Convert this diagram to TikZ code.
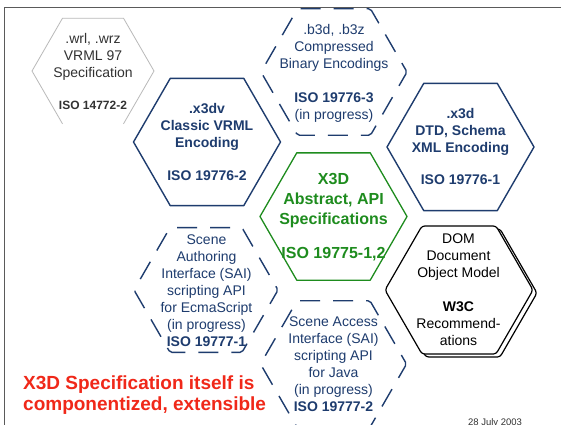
\documentclass[tikz,border=0pt]{standalone}
\usepackage{fontspec}
\setmainfont{Liberation Sans}
\usetikzlibrary{calc}
\definecolor{navy}{RGB}{30,60,110}
\definecolor{xgreen}{RGB}{30,140,30}
\definecolor{xred}{RGB}{240,40,25}
\definecolor{lgray}{RGB}{185,185,185}
\definecolor{dgray}{RGB}{50,50,50}
\definecolor{framegray}{RGB}{90,90,90}
\newcommand\hexloop[1]{++(0:#1) -- ++(120:#1) -- ++(180:#1) -- ++(240:#1) -- ++(300:#1) -- ++(0:#1) -- cycle}
\begin{document}
\begin{tikzpicture}[x=1pt,y=-1pt,
  solidhex/.style={draw=navy, line width=1.4pt, line join=round},
  dashhex/.style={draw=navy, line width=1.4pt, dash pattern=on 20pt off 13pt, dash phase=6pt, rounded corners=2pt},
  greenhex/.style={draw=xgreen, line width=1.3pt, line join=round},
  grayhex/.style={draw=lgray, line width=0.8pt, line join=round},
  domhex/.style={draw=black, line width=1.2pt, fill=white, rounded corners=3pt},
  txt/.style={align=center, inner sep=0pt, font=\fontsize{14}{17}\selectfont},
]
\useasboundingbox (0,0) rectangle (561,424);
\fill[white] (0,0) rectangle (561,424);
% frame
\coordinate (fA) at (4,430);
\coordinate (fB) at (4,7);
\coordinate (fC) at (561,7);
\draw[framegray, line width=0.9pt] (fA) -- (fB) -- (fC);

% centres
\coordinate (cVRML) at (93,71);
\coordinate (cB3D) at (334,72);
\coordinate (cX3DV) at (207,142);
\coordinate (cX3D) at (460.5,147);
\coordinate (cAPI) at (333.5,216.5);
\coordinate (cSAIE) at (206,290);
\coordinate (cDOM) at (459,290);
\coordinate (cDOMs) at (463,293);
\coordinate (cSAIJ) at (333.5,364);

% VRML hexagon (bottom edge not drawn)
\draw[grayhex] (cVRML) ++(-30.5,52.8) -- ++(-30.5,-52.8) -- ++(30.5,-52.8) -- ++(61,0) -- ++(30.5,52.8) -- ++(-30.5,52.8);

\draw[dashhex] (cB3D) \hexloop{73};
\draw[solidhex] (cX3DV) \hexloop{73.5};
\draw[solidhex] (cX3D) \hexloop{73.5};
\draw[greenhex] (cAPI) \hexloop{73.5};
\draw[dashhex] (cSAIE) \hexloop{72};
\draw[dashhex] (cSAIJ) \hexloop{73};
\draw[domhex] (cDOMs) \hexloop{74};
\draw[domhex] (cDOM) \hexloop{74};

% texts
\node[txt, text=dgray] (tVRML) at (93,71) {.wrl, .wrz\\VRML 97\\Specification\\[15pt]{\fontsize{12}{14}\selectfont\bfseries ISO 14772-2}};
\node[txt, text=navy] (tB3D) at (334,73) {.b3d, .b3z\\Compressed\\Binary Encodings\\[17pt]\textbf{ISO 19776-3}\\(in progress)};
\node[txt, text=navy, font=\fontsize{14}{17}\selectfont\bfseries] (tX3DV) at (207,142) {.x3dv\\Classic VRML\\Encoding\\[16pt]ISO 19776-2};
\node[txt, text=navy, font=\fontsize{14}{17}\selectfont\bfseries] (tX3D) at (460.5,146.5) {.x3d\\DTD, Schema\\XML Encoding\\[15pt]ISO 19776-1};
\node[txt, text=xgreen, font=\fontsize{16}{20}\selectfont\bfseries] (tAPI) at (333.5,217.5) {X3D\\Abstract, API\\Specifications\\[14pt]ISO 19775-1,2};
\node[txt, text=navy] (tSAIE) at (206.5,290.5) {Scene\\Authoring\\Interface (SAI)\\scripting API\\for EcmaScript\\(in progress)\\\textbf{ISO 19777-1}};
\node[txt, text=black] (tDOM) at (458.5,290) {DOM\\Document\\Object Model\\[17pt]\textbf{W3C}\\Recommend-\\ations};
\node[txt, text=navy] (tSAIJ) at (333.5,364.5) {Scene Access\\Interface (SAI)\\scripting API\\for Java\\(in progress)\\\textbf{ISO 19777-2}};

\node[anchor=west, align=left, inner sep=0pt, text=xred, font=\fontsize{19}{21}\selectfont\bfseries] (tRed) at (23,395) {X3D Specification itself is\\componentized, extensible};
\node[anchor=base, inner sep=0pt, text=dgray, font=\fontsize{9.5}{11}\selectfont] (tDate) at (495,425) {28 July 2003};
\end{tikzpicture}
\end{document}
